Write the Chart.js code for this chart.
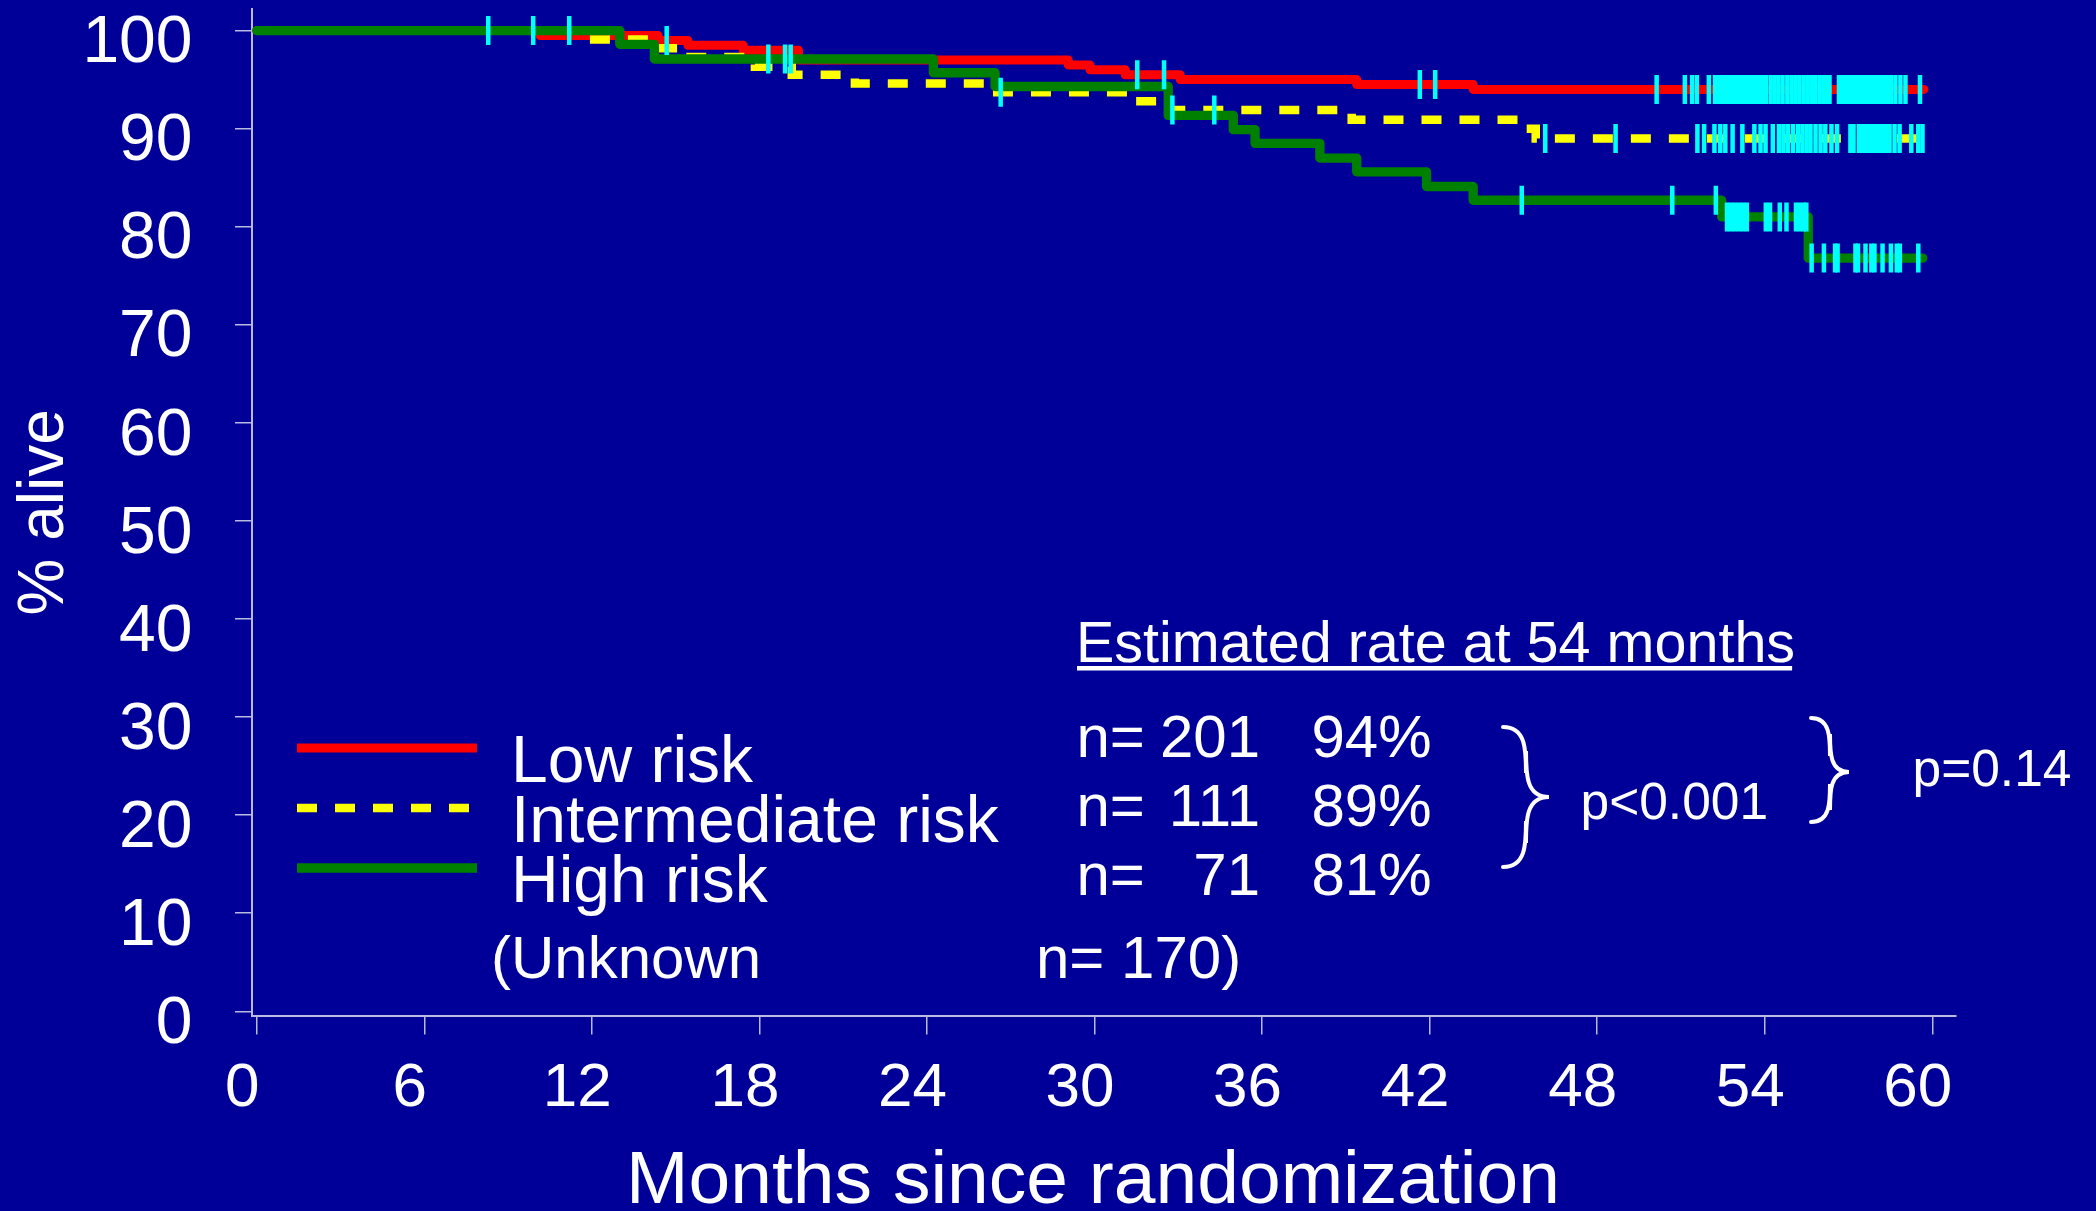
<!DOCTYPE html>
<html>
<head>
<meta charset="utf-8">
<title>Overall survival by risk group</title>
<script src="https://cdn.jsdelivr.net/npm/chart.js@4/dist/chart.umd.min.js"></script>
<style>
  html, body { margin: 0; padding: 0; background: #000099; }
  #wrap { width: 2096px; height: 1211px; }
</style>
</head>
<body>
<div id="wrap"><canvas id="km" width="2096" height="1211"></canvas></div>
<script>
// Axis ticks and captions
const monthTicks = [0, 6, 12, 18, 24, 30, 36, 42, 48, 54, 60];
const percentTicks = [0, 10, 20, 30, 40, 50, 60, 70, 80, 90, 100];
const xCaption = 'Months since randomization';
const yCaption = '% alive';

// Risk groups and their 54-month estimates
const groupNames = ['Low risk', 'Intermediate risk', 'High risk'];
const groupSizes = [201, 111, 71];
const rateAt54 = [94, 89, 81];
const unknownSize = 170;
const pAcrossGroups = 'p<0.001';
const pLowVsIntermediate = 'p=0.14';

// Kaplan-Meier steps: month of each drop and % alive after it
const lowMonths = [0, 10.14, 14.37, 15.44, 17.42, 19.4, 29.06, 29.84, 31.1, 33.07, 39.39, 43.56, 59.7];
const lowSurv   = [100, 99.5, 99.0, 98.5, 98.0, 97.0, 96.5, 96.0, 95.5, 95.0, 94.5, 94, 94];

const intMonths = [0, 11.87, 14.37, 15.2, 17.84, 19.16, 21.42, 26.14, 31.33, 32.46, 39.21, 45.3, 45.8, 59.7];
const intSurv   = [100, 99.1, 98.2, 97.3, 96.3, 95.5, 94.6, 93.7, 92.8, 91.9, 90.9, 90.0, 89, 89];

const highMonths = [0, 13.0, 14.24, 24.23, 26.44, 32.64, 34.97, 35.75, 38.07, 39.39, 41.89, 43.56, 52.46, 55.56, 59.66];
const highSurv   = [100, 98.6, 97.1, 95.7, 94.3, 91.35, 89.9, 88.5, 87.0, 85.6, 84.1, 82.7, 81, 76.8, 76.8];

// Censored follow-up times (months)
const lowCensored = [14.68, 31.53, 32.49, 41.65, 42.2, 50.13, 51.14, 51.40, 51.57, 52.00,
  52.22, 52.36, 52.50, 52.65, 52.79, 52.93, 53.08, 53.22, 53.36, 53.50, 53.65, 53.79, 53.93, 54.04,
  54.21, 54.35, 54.49, 54.64, 54.81, 54.96, 55.10, 55.24, 55.39, 55.53, 55.67, 55.81, 55.96, 56.10,
  56.24, 56.32, 56.66, 56.80, 56.94, 57.09, 57.23, 57.37, 57.52, 57.66, 57.80, 57.95, 58.09, 58.23,
  58.38, 58.52, 58.68, 58.86, 59.04, 59.56];
const intCensored = [26.64, 32.79, 34.29, 46.14, 48.66, 51.59, 51.83, 52.20, 52.41, 52.59, 52.85,
  53.20, 53.63, 53.85, 54.03, 54.29, 54.51, 54.67, 54.83, 55.01, 55.19, 55.35, 55.50, 55.64, 55.82,
  56.00, 56.17, 56.39, 56.59, 57.07, 57.18, 57.37, 57.52, 57.66, 57.80, 57.95, 58.09, 58.23, 58.38,
  58.47, 58.65, 58.83, 59.25, 59.50, 59.65];
const highCensored = [8.29, 9.90, 11.19, 18.32, 18.92, 19.12, 45.30, 50.69, 52.25, 52.65, 52.79,
  52.93, 53.08, 53.22, 53.36, 54.04, 54.19, 54.54, 54.78, 55.12, 55.26, 55.40, 55.49, 55.68, 56.12,
  56.52, 56.61, 57.25, 57.34, 57.61, 57.82, 57.93, 58.22, 58.52, 58.73, 58.84, 59.50];

const FONT = '"Liberation Sans", Arial, Helvetica, sans-serif';
const NAVY = '#000099';
const AXIS = '#b9b9e2';

function steps(months, surv) {
  return months.map((m, i) => ({ x: m, y: surv[i] }));
}
// survival level in effect at time t
function levelAt(months, surv, t) {
  let v = surv[0];
  for (let i = 0; i < months.length; i++) if (months[i] <= t) v = surv[i];
  return v;
}
function censorPoints(times, months, surv) {
  return times.map(t => ({ x: t, y: levelAt(months, surv, t) }));
}

function curve(label, months, surv, color, width, dash, order) {
  return {
    type: 'line', label, data: steps(months, surv), stepped: 'before',
    borderColor: color, borderWidth: width, borderDash: dash,
    borderCapStyle: dash.length ? 'butt' : 'round',
    borderJoinStyle: dash.length ? 'miter' : 'round',
    pointRadius: 0, fill: false, tension: 0, order
  };
}
function censorSet(label, times, months, surv) {
  return {
    type: 'scatter', label, data: censorPoints(times, months, surv),
    pointStyle: 'line', pointRotation: 90, pointRadius: 14.5, pointHoverRadius: 14.5,
    pointBorderColor: '#00ffff', pointBackgroundColor: '#00ffff', pointBorderWidth: 4.5,
    showLine: false, order: 0
  };
}

const background = {
  id: 'navyBackground',
  beforeDraw(chart) {
    const c = chart.ctx;
    c.save();
    c.fillStyle = NAVY;
    c.fillRect(0, 0, chart.width, chart.height);
    c.restore();
  }
};

function drawBrace(c, x0, x1, top, bottom, tipY) {
  const xm = (x0 + x1) / 2;
  const r = (x1 - x0) / 2;
  c.beginPath();
  c.moveTo(x0, top);
  c.bezierCurveTo(xm, top, xm, top + r, xm, top + 2 * r);
  c.lineTo(xm, tipY - 2 * r);
  c.bezierCurveTo(xm, tipY - r, xm, tipY, x1, tipY);
  c.bezierCurveTo(xm, tipY, xm, tipY + r, xm, tipY + 2 * r);
  c.lineTo(xm, bottom - 2 * r);
  c.bezierCurveTo(xm, bottom - r, xm, bottom, x0, bottom);
  c.stroke();
}

// Key, 54-month estimates, p-values and the month caption
const riskKey = {
  id: 'riskKey',
  afterDraw(chart) {
    const c = chart.ctx;
    c.save();
    c.fillStyle = '#ffffff';
    c.textBaseline = 'alphabetic';

    const lineY = [748, 808, 868];
    const nameY = [782, 842, 902];
    groupNames.forEach((name, i) => {
      const ds = chart.data.datasets[i];
      c.save();
      c.strokeStyle = ds.borderColor;
      c.lineWidth = ds.borderWidth;
      c.setLineDash(ds.borderDash || []);
      c.lineCap = 'butt';
      c.beginPath();
      c.moveTo(297, lineY[i]);
      c.lineTo(477, lineY[i]);
      c.stroke();
      c.restore();
      c.font = '66px ' + FONT;
      c.textAlign = 'left';
      c.fillText(name, 511, nameY[i]);
    });

    c.font = '60px ' + FONT;
    c.textAlign = 'left';
    c.fillText('(Unknown', 491, 978);
    c.fillText('n= ' + unknownSize + ')', 1036, 978);

    // heading
    const head = 'Estimated rate at 54 months';
    c.font = '57.5px ' + FONT;
    c.fillText(head, 1076, 662);
    const hw = c.measureText(head).width;
    c.fillRect(1077, 666, hw - 4, 4.5);

    const rowY = [757, 826, 895];
    c.font = '60px ' + FONT;
    groupSizes.forEach((n, i) => {
      c.textAlign = 'left';
      c.fillText('n=', 1076.5, rowY[i]);
      c.textAlign = 'right';
      c.fillText(String(n), 1260, rowY[i]);
      c.fillText(rateAt54[i] + '%', 1431.5, rowY[i]);
    });

    c.strokeStyle = '#ffffff';
    c.lineWidth = 4;
    c.lineCap = 'round';
    drawBrace(c, 1503, 1549, 727, 867, 797);
    drawBrace(c, 1811, 1849, 718, 822, 772);

    c.font = '51.5px ' + FONT;
    c.textAlign = 'left';
    c.fillText(pAcrossGroups, 1580.5, 819);
    c.fillText(pLowVsIntermediate, 1912.5, 786);

    // month axis caption
    c.font = '75px ' + FONT;
    c.textAlign = 'center';
    c.fillText(xCaption, 1093, 1203);
    c.restore();
  }
};

new Chart(document.getElementById('km'), {
  data: {
    datasets: [
      curve(groupNames[0], lowMonths, lowSurv, '#ff0000', 9, [], 3),
      curve(groupNames[1], intMonths, intSurv, '#ffff00', 8.5, [20, 18], 2),
      curve(groupNames[2], highMonths, highSurv, '#008000', 9.3, [], 1),
      censorSet('Low risk censored', lowCensored, lowMonths, lowSurv),
      censorSet('Intermediate risk censored', intCensored, intMonths, intSurv),
      censorSet('High risk censored', highCensored, highMonths, highSurv)
    ]
  },
  options: {
    responsive: false,
    animation: false,
    devicePixelRatio: 1,
    layout: { autoPadding: false, padding: { top: 9, right: 140, bottom: 0, left: 0 } },
    plugins: { legend: { display: false }, tooltip: { enabled: false } },
    scales: {
      x: {
        type: 'linear', position: 'bottom', min: -0.17, max: 60.85,
        afterBuildTicks: s => { s.ticks = monthTicks.map(v => ({ value: v })); },
        afterFit: s => { s.height = 195.5; s.paddingLeft = 0; s.paddingRight = 0; },
        grid: { drawOnChartArea: false, drawTicks: true, tickLength: 19, color: AXIS, lineWidth: 1.5 },
        border: { display: true, color: AXIS, width: 2 },
        ticks: {
          color: '#ffffff', font: { family: FONT, size: 62 }, padding: 17, labelOffset: -14.5,
          maxRotation: 0, minRotation: 0, autoSkip: false, callback: v => String(v)
        },
        title: { display: false, text: xCaption }
      },
      y: {
        type: 'linear', position: 'left', min: -0.43, max: 102.2,
        afterBuildTicks: s => { s.ticks = percentTicks.map(v => ({ value: v })); },
        afterFit: s => { s.width = 252; s.paddingTop = 0; s.paddingBottom = 0; },
        grid: { drawOnChartArea: false, drawTicks: true, tickLength: 17, color: AXIS, lineWidth: 1.5 },
        border: { display: true, color: AXIS, width: 2 },
        ticks: {
          color: '#ffffff', font: { family: FONT, size: 66 }, padding: 42.5, labelOffset: 13.5,
          autoSkip: false, callback: v => String(v)
        },
        title: {
          display: true, text: yCaption, color: '#ffffff',
          font: { family: FONT, size: 64 }, padding: { top: 6.6, bottom: 0 }
        }
      }
    }
  },
  plugins: [background, riskKey]
});
</script>
</body>
</html>
